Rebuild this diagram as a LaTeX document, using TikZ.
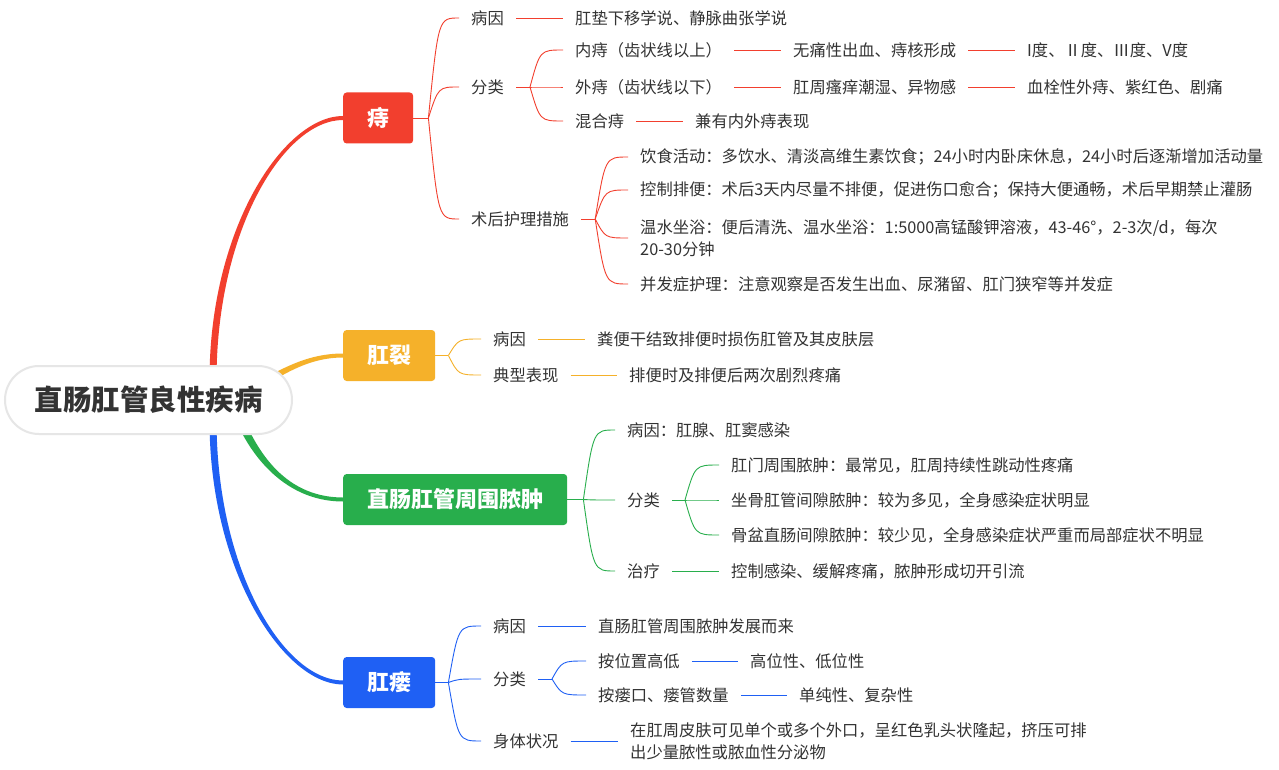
\documentclass[tikz,border=0pt]{standalone}
\usepackage{fontspec}
\setmainfont{Noto Sans CJK SC}
\definecolor{cR}{HTML}{F23F2E}
\definecolor{cY}{HTML}{F5B12A}
\definecolor{cG}{HTML}{28AE4C}
\definecolor{cB}{HTML}{1F60F4}
\definecolor{txt}{HTML}{333333}
\definecolor{rootline}{HTML}{E6E6E6}
\tikzset{
  tx/.style={anchor=west, inner xsep=12pt, inner ysep=2pt, text=txt, font=\fontsize{16.3}{22}\selectfont, align=left},
  lvl/.style={anchor=west, inner xsep=24pt, inner ysep=0pt, minimum height=51pt, rounded corners=3.5pt, text=white, font=\fontsize{22}{26}\selectfont\bfseries},
  cn/.style={line width=0.9pt},
}
\begin{document}
\begin{tikzpicture}[x=1pt,y=-1pt]
\useasboundingbox (0,0) rectangle (1279,770);
\fill[white] (0,0) rectangle (1279,770);

% level 1 boxes
\node[lvl, fill=cR] (zhi) at (343,118) {痔};
\node[lvl, fill=cY] (lie) at (343,355.5) {肛裂};
\node[lvl, fill=cG] (gr) at (343,499.5) {直肠肛管周围脓肿};
\node[lvl, fill=cB] (lou) at (343,682.5) {肛瘘};

% main tapered branches (drawn before the root so the root covers their start)
\fill[cR] (209.5,380) .. controls (209.5,228) and (284,116) .. ([yshift=2pt]zhi.west) -- ([yshift=-2pt]zhi.west) .. controls (284,120) and (216.5,230) .. (216.5,380) -- cycle;
\fill[cB] (209.5,420) .. controls (209.5,572) and (284,684.5) .. ([yshift=-2pt]lou.west) -- ([yshift=2pt]lou.west) .. controls (284,680.5) and (216.5,570) .. (216.5,420) -- cycle;
\fill[cY] (245,388) .. controls (272,376) and (300,353.5) .. ([yshift=2pt]lie.west) -- ([yshift=-2pt]lie.west) .. controls (300,357.5) and (272,384) .. (245,396) -- cycle;
\fill[cG] (241.5,413.5) .. controls (254,443) and (280,497.5) .. ([yshift=2pt]gr.west) -- ([yshift=-2pt]gr.west) .. controls (280,501.5) and (246,447) .. (234.5,416.5) -- cycle;

% root
\node[draw=rootline, line width=2pt, fill=white, rounded corners=34pt, minimum width=287pt, minimum height=68pt, inner sep=0pt, text=txt, font=\fontsize{28.5}{32}\selectfont\bfseries] (root) at (148.5,400) {直肠肛管良性疾病};

% ---------- 痔 ----------
\node[tx] (z1) at (459,18) {病因};
\node[tx] (z2) at (459,87) {分类};
\node[tx] (z3) at (459,219) {术后护理措施};
\node[tx] (z11) at (563,18) {肛垫下移学说、静脉曲张学说};
\node[tx] (z21) at (563,50) {内痔（齿状线以上）};
\node[tx] (z22) at (563,87) {外痔（齿状线以下）};
\node[tx] (z23) at (563,121) {混合痔};
\node[tx] (z211) at (781,50) {无痛性出血、痔核形成};
\node[tx] (z2111) at (1015,50) {I度、Ⅱ度、Ⅲ度、V度};
\node[tx] (z221) at (781,87) {肛周瘙痒潮湿、异物感};
\node[tx] (z2211) at (1015,87) {血栓性外痔、紫红色、剧痛};
\node[tx] (z231) at (683,121) {兼有内外痔表现};
\node[tx] (z31) at (628,157) {饮食活动：多饮水、清淡高维生素饮食；24小时内卧床休息，24小时后逐渐增加活动量};
\node[tx] (z32) at (628,190) {控制排便：术后3天内尽量不排便，促进伤口愈合；保持大便通畅，术后早期禁止灌肠};
\node[tx] (z33) at (628,238) {温水坐浴：便后清洗、温水坐浴：1:5000高锰酸钾溶液，43-46°，2-3次/d，每次\\20-30分钟};
\node[tx] (z34) at (628,284) {并发症护理：注意观察是否发生出血、尿潴留、肛门狭窄等并发症};

\begin{scope}[cn, cR]
\draw (zhi.east) -- ++(15,0) coordinate (fz);
\coordinate (fzc) at ([xshift=10pt]fz);
\foreach \c in {z1,z2,z3} \draw (fz) .. controls (fzc |- \c.west) .. (\c.west);
\draw (z1.east) -- (z11.west);
\draw (z2.east) -- ++(14,0) coordinate (fz2);
\coordinate (fz2c) at ([xshift=10pt]fz2);
\foreach \c in {z21,z22,z23} \draw (fz2) .. controls (fz2c |- \c.west) .. (\c.west);
\draw (z21.east) -- (z211.west);
\draw (z211.east) -- (z2111.west);
\draw (z22.east) -- (z221.west);
\draw (z221.east) -- (z2211.west);
\draw (z23.east) -- (z231.west);
\draw (z3.east) -- ++(14,0) coordinate (fz3);
\coordinate (fz3c) at ([xshift=10pt]fz3);
\foreach \c in {z31,z32,z33,z34} \draw (fz3) .. controls (fz3c |- \c.west) .. (\c.west);
\end{scope}

% ---------- 肛裂 ----------
\node[tx] (g1) at (481,339) {病因};
\node[tx] (g2) at (481,375) {典型表现};
\node[tx] (g11) at (585,339) {粪便干结致排便时损伤肛管及其皮肤层};
\node[tx] (g21) at (617,375) {排便时及排便后两次剧烈疼痛};
\begin{scope}[cn, cY]
\draw (lie.east) -- ++(13,0) coordinate (fg);
\coordinate (fgc) at ([xshift=10pt]fg);
\foreach \c in {g1,g2} \draw (fg) .. controls (fgc |- \c.west) .. (\c.west);
\draw (g1.east) -- (g11.west);
\draw (g2.east) -- (g21.west);
\end{scope}

% ---------- 直肠肛管周围脓肿 ----------
\node[tx] (n1) at (615,430) {病因：肛腺、肛窦感染};
\node[tx] (n2) at (615,500) {分类};
\node[tx] (n3) at (615,571) {治疗};
\node[tx] (n21) at (719,465) {肛门周围脓肿：最常见，肛周持续性跳动性疼痛};
\node[tx] (n22) at (719,500) {坐骨肛管间隙脓肿：较为多见，全身感染症状明显};
\node[tx] (n23) at (719,535) {骨盆直肠间隙脓肿：较少见，全身感染症状严重而局部症状不明显};
\node[tx] (n31) at (719,571) {控制感染、缓解疼痛，脓肿形成切开引流};
\begin{scope}[cn, cG]
\draw (gr.east) -- ++(16,0) coordinate (fn);
\coordinate (fnc) at ([xshift=10pt]fn);
\foreach \c in {n1,n2,n3} \draw (fn) .. controls (fnc |- \c.west) .. (\c.west);
\draw (n2.east) -- ++(13,0) coordinate (fn2);
\coordinate (fn2c) at ([xshift=10pt]fn2);
\foreach \c in {n21,n22,n23} \draw (fn2) .. controls (fn2c |- \c.west) .. (\c.west);
\draw (n3.east) -- (n31.west);
\end{scope}

% ---------- 肛瘘 ----------
\node[tx] (b1) at (481,626) {病因};
\node[tx] (b2) at (481,679) {分类};
\node[tx] (b3) at (481,741) {身体状况};
\node[tx] (b11) at (586,626) {直肠肛管周围脓肿发展而来};
\node[tx] (b21) at (586,661) {按位置高低};
\node[tx] (b22) at (586,695) {按瘘口、瘘管数量};
\node[tx] (b211) at (738,661) {高位性、低位性};
\node[tx] (b221) at (787,695) {单纯性、复杂性};
\node[tx] (b31) at (618,741) {在肛周皮肤可见单个或多个外口，呈红色乳头状隆起，挤压可排\\出少量脓性或脓血性分泌物};
\begin{scope}[cn, cB]
\draw (lou.east) -- ++(13,0) coordinate (fb);
\coordinate (fbc) at ([xshift=10pt]fb);
\foreach \c in {b1,b2,b3} \draw (fb) .. controls (fbc |- \c.west) .. (\c.west);
\draw (b1.east) -- (b11.west);
\draw (b2.east) -- ++(14,0) coordinate (fb2);
\coordinate (fb2c) at ([xshift=10pt]fb2);
\foreach \c in {b21,b22} \draw (fb2) .. controls (fb2c |- \c.west) .. (\c.west);
\draw (b21.east) -- (b211.west);
\draw (b22.east) -- (b221.west);
\draw (b3.east) -- (b31.west);
\end{scope}
\end{tikzpicture}
\end{document}
